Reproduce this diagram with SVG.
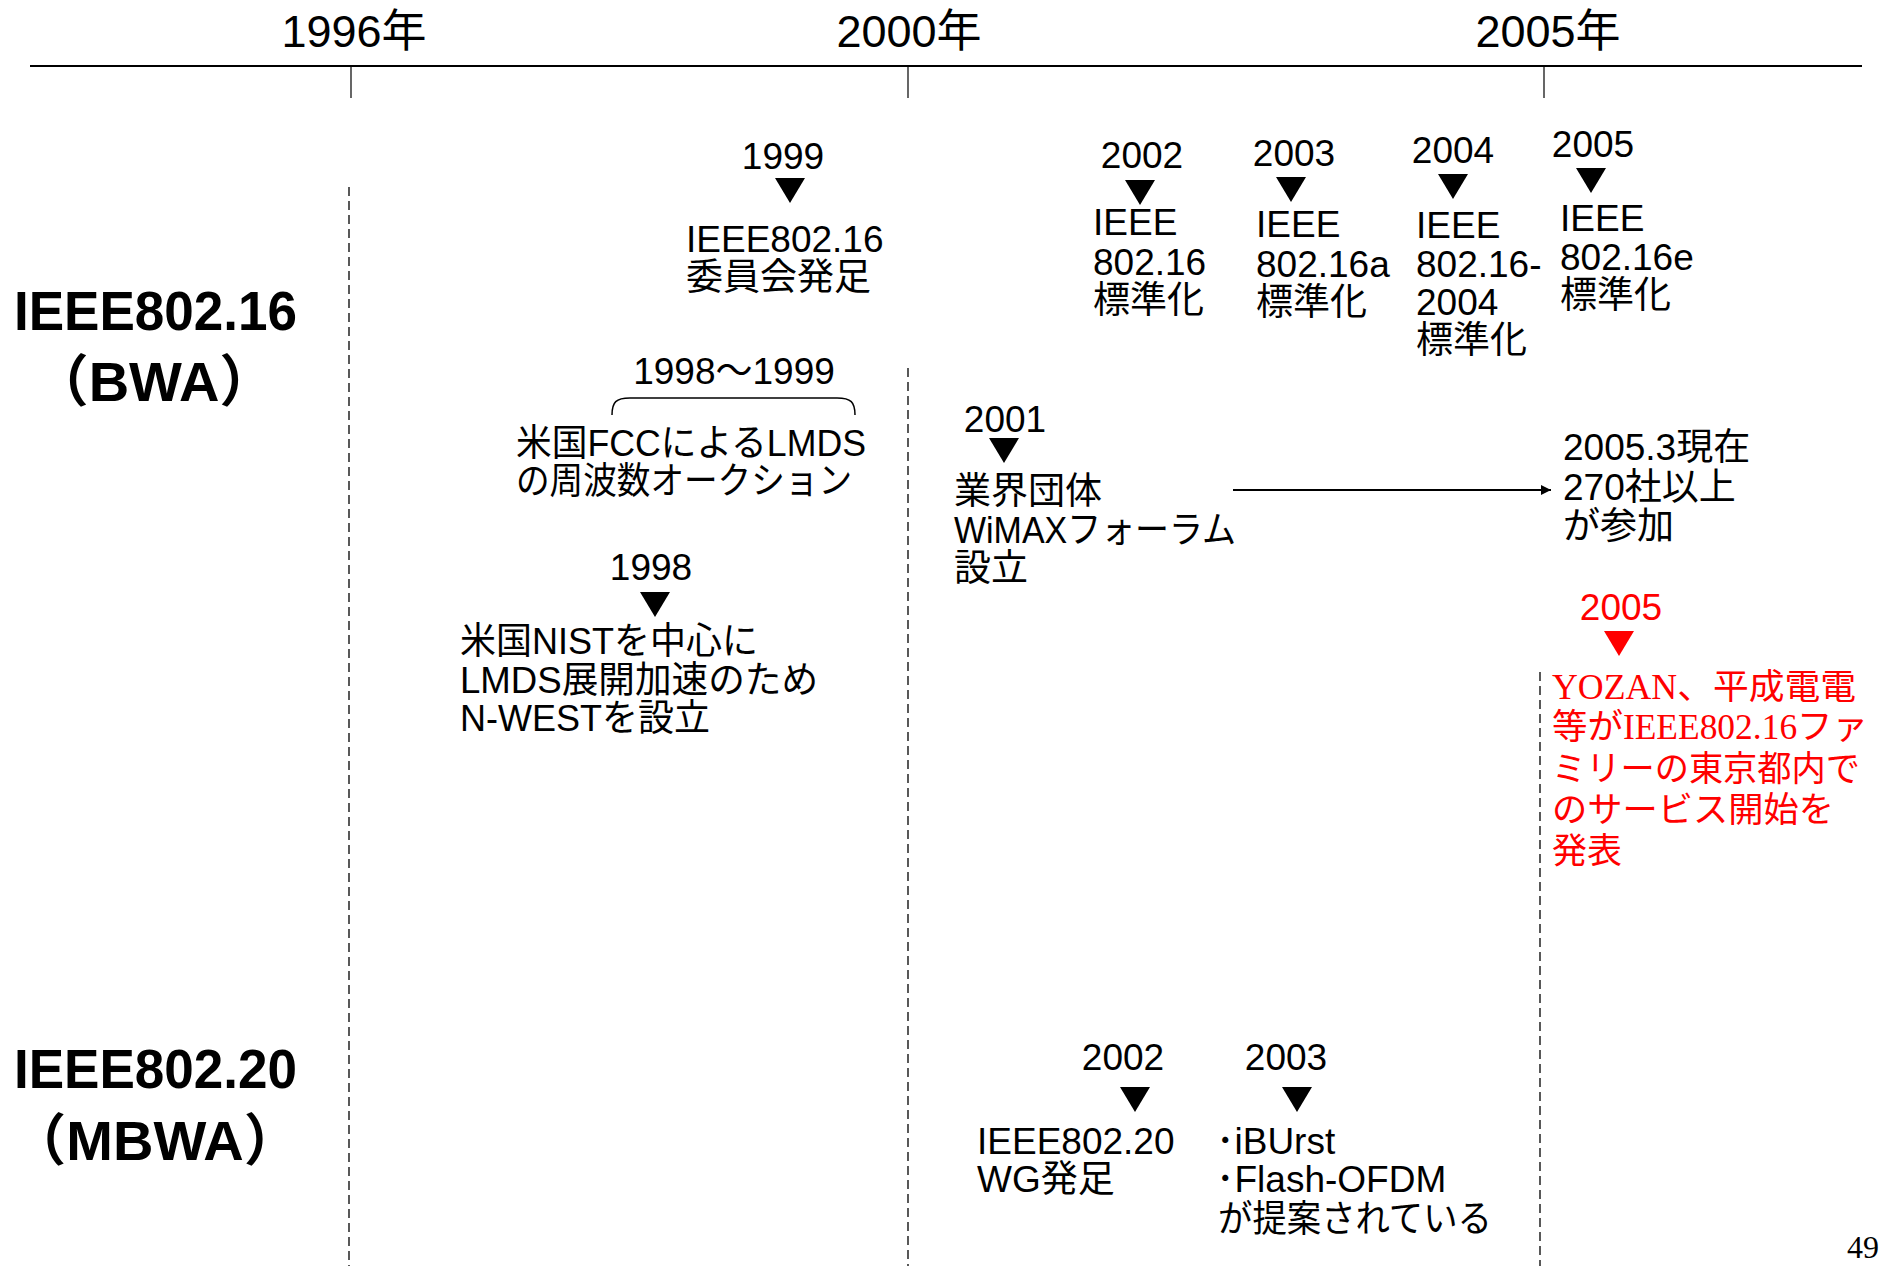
<svg xmlns="http://www.w3.org/2000/svg" xmlns:xlink="http://www.w3.org/1999/xlink" width="1881" height="1266" viewBox="0 0 1881 1266">
<defs>
<style>
.t{font-family:"Liberation Sans","Noto Sans CJK JP",sans-serif;font-size:37px;fill:#000}
.yr{font-family:"Liberation Sans","Noto Sans CJK JP",sans-serif;font-size:45px;fill:#000;text-anchor:middle}
.lb{font-family:"Liberation Sans","Noto Sans CJK JP",sans-serif;font-size:56px;font-weight:bold;fill:#000}
.c{text-anchor:middle}
.red{font-family:"Liberation Serif","Noto Sans CJK JP",serif;font-size:35px;fill:#ff0000}
.dash{stroke:#000;stroke-width:1.3;stroke-dasharray:9,5;fill:none}
.axis{stroke:#000;fill:none}
</style>
<polygon id="tri" points="-15,0 15,0 0,25"/>
<marker id="ah" markerWidth="10" markerHeight="10" refX="10" refY="5" orient="auto" markerUnits="userSpaceOnUse" viewBox="0 0 10 10">
<path d="M0,0 L10,5 L0,10 z" fill="#000"/>
</marker>
</defs>
<rect width="1881" height="1266" fill="#fff"/>

<g id="timeline">
<line class="axis" x1="30" y1="66" x2="1862" y2="66" stroke-width="2.2"/>
<line class="axis" x1="351" y1="66" x2="351" y2="98" stroke-width="1.2"/>
<line class="axis" x1="908" y1="66" x2="908" y2="98" stroke-width="1.2"/>
<line class="axis" x1="1544" y1="66" x2="1544" y2="98" stroke-width="1.2"/>
<text class="yr" x="354" y="47">1996年</text>
<text class="yr" x="909" y="47">2000年</text>
<text class="yr" x="1548" y="47">2005年</text>
<line class="dash" x1="349" y1="187" x2="349" y2="1266"/>
<line class="dash" x1="908" y1="368" x2="908" y2="1266"/>
<line class="dash" x1="1540" y1="672" x2="1540" y2="1266"/>
</g>

<g id="label-ieee80216">
<text class="lb" x="14" y="330" textLength="283" lengthAdjust="spacingAndGlyphs">IEEE802.16</text>
<text class="lb c" x="154" y="401">（BWA）</text>
</g>
<g id="label-ieee80220">
<text class="lb" x="14" y="1088" textLength="283" lengthAdjust="spacingAndGlyphs">IEEE802.20</text>
<text class="lb c" x="155" y="1160">（MBWA）</text>
</g>

<g id="ev-1999">
<text class="t c" x="783" y="169">1999</text>
<use xlink:href="#tri" x="790" y="178"/>
<text class="t" x="686" y="252">IEEE802.16</text>
<text class="t" x="686" y="290">委員会発足</text>
</g>

<g id="ev-2002">
<text class="t c" x="1142" y="168">2002</text>
<use xlink:href="#tri" x="1140" y="180"/>
<text class="t" x="1093" y="235">IEEE</text>
<text class="t" x="1093" y="275">802.16</text>
<text class="t" x="1093" y="313">標準化</text>
</g>

<g id="ev-2003">
<text class="t c" x="1294" y="166">2003</text>
<use xlink:href="#tri" x="1291" y="177"/>
<text class="t" x="1256" y="237">IEEE</text>
<text class="t" x="1256" y="277">802.16a</text>
<text class="t" x="1256" y="315">標準化</text>
</g>

<g id="ev-2004">
<text class="t c" x="1453" y="163">2004</text>
<use xlink:href="#tri" x="1453" y="174"/>
<text class="t" x="1416" y="238">IEEE</text>
<text class="t" x="1416" y="277">802.16-</text>
<text class="t" x="1416" y="315">2004</text>
<text class="t" x="1416" y="353">標準化</text>
</g>

<g id="ev-2005">
<text class="t c" x="1593" y="157">2005</text>
<use xlink:href="#tri" x="1591" y="168"/>
<text class="t" x="1560" y="231">IEEE</text>
<text class="t" x="1560" y="270">802.16e</text>
<text class="t" x="1560" y="308">標準化</text>
</g>

<g id="ev-1998-1999">
<text class="t c" x="734" y="384">1998〜1999</text>
<path d="M612,415 C612,402 616,398 630,398 L837,398 C851,398 855,402 855,415" fill="none" stroke="#000" stroke-width="1.5"/>
<text class="t" x="516" y="456" textLength="350" lengthAdjust="spacingAndGlyphs">米国FCCによるLMDS</text>
<text class="t" x="516" y="494" textLength="336" lengthAdjust="spacingAndGlyphs">の周波数オークション</text>
</g>

<g id="ev-1998">
<text class="t c" x="651" y="580">1998</text>
<use xlink:href="#tri" x="655" y="592"/>
<text class="t" x="460" y="654" textLength="298" lengthAdjust="spacingAndGlyphs">米国NISTを中心に</text>
<text class="t" x="460" y="693" textLength="358" lengthAdjust="spacingAndGlyphs">LMDS展開加速のため</text>
<text class="t" x="460" y="731" textLength="250" lengthAdjust="spacingAndGlyphs">N-WESTを設立</text>
</g>

<g id="ev-2001">
<text class="t c" x="1005" y="432">2001</text>
<use xlink:href="#tri" x="1004" y="438"/>
<text class="t" x="954" y="504">業界団体</text>
<text class="t" x="954" y="543" textLength="282" lengthAdjust="spacingAndGlyphs">WiMAXフォーラム</text>
<text class="t" x="954" y="581">設立</text>
</g>

<g id="ev-2005-3">
<text class="t" x="1563" y="460">2005.3現在</text>
<text class="t" x="1563" y="500">270社以上</text>
<text class="t" x="1563" y="539">が参加</text>
</g>

<g id="ev-2005-yozan">
<text class="t c" x="1621" y="620" style="fill:#ff0000">2005</text>
<use xlink:href="#tri" x="1619" y="631" fill="#ff0000"/>
<text class="red" x="1552" y="699" textLength="304" lengthAdjust="spacingAndGlyphs">YOZAN、平成電電</text>
<text class="red" x="1552" y="739" textLength="316" lengthAdjust="spacingAndGlyphs">等がIEEE802.16ファ</text>
<text class="red" x="1552" y="781" textLength="308" lengthAdjust="spacingAndGlyphs">ミリーの東京都内で</text>
<text class="red" x="1552" y="822" textLength="282" lengthAdjust="spacingAndGlyphs">のサービス開始を</text>
<text class="red" x="1552" y="863">発表</text>
</g>

<g id="ev-802-20-2002">
<text class="t c" x="1123" y="1070">2002</text>
<use xlink:href="#tri" x="1135" y="1087"/>
<text class="t" x="977" y="1154">IEEE802.20</text>
<text class="t" x="977" y="1192">WG発足</text>
</g>

<g id="ev-802-20-2003">
<text class="t c" x="1286" y="1070">2003</text>
<use xlink:href="#tri" x="1297" y="1087"/>
<text class="t" x="1216" y="1154">･iBUrst</text>
<text class="t" x="1216" y="1192">･Flash-OFDM</text>
<text class="t" x="1218" y="1232" textLength="274" lengthAdjust="spacingAndGlyphs">が提案されている</text>
</g>

<g id="connectors">
<line x1="1233" y1="490" x2="1551" y2="490" stroke="#000" stroke-width="2" marker-end="url(#ah)"/>
</g>

<text x="1847" y="1258" style="font-family:'Liberation Serif',serif;font-size:32px;fill:#000">49</text>
</svg>
